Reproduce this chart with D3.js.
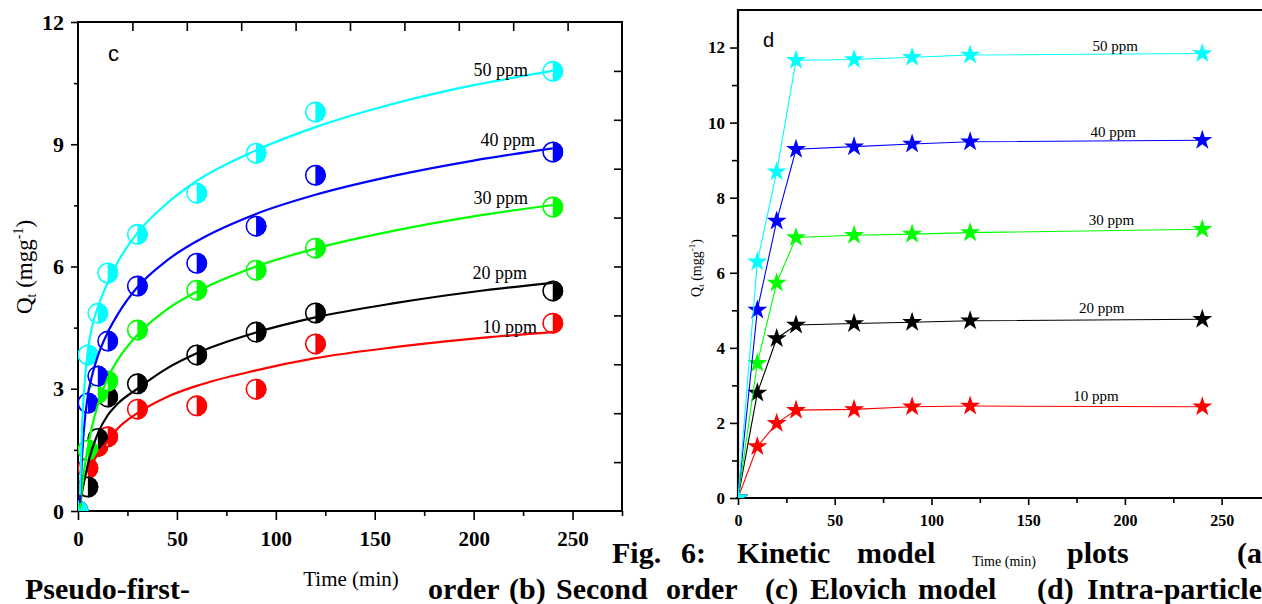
<!DOCTYPE html>
<html>
<head>
<meta charset="utf-8">
<script src="https://cdn.jsdelivr.net/npm/d3@7"></script>
<style>
  body { margin: 0; background: #fff; }
  svg { display: block; }
</style>
</head>
<body>
<svg id="fig" width="1262" height="604"></svg>
<script>
// === Fig. 6 — kinetic model plots, panels (c) Elovich and (d) intra-particle ===

// --- Data ---
const SERIES = ["10 ppm", "20 ppm", "30 ppm", "40 ppm", "50 ppm"];
const COLORS = ["#ff0000", "#000000", "#00ff00", "#0000ff", "#00ffff"];

// panel c: measured points
const ELOVICH_T = [0, 5, 10, 15, 30, 60, 90, 120, 240];
const ELOVICH_Q = [
  [0, 1.05, 1.58, 1.82, 2.50, 2.58, 2.99, 4.10, 4.61],
  [0, 0.59, 1.78, 2.80, 3.12, 3.83, 4.39, 4.86, 5.40],
  [0, 1.50, 2.89, 3.19, 4.44, 5.42, 5.91, 6.45, 7.46],
  [0, 2.65, 3.31, 4.17, 5.52, 6.08, 6.99, 8.24, 8.81],
  [0, 3.83, 4.85, 5.84, 6.79, 7.80, 8.78, 9.79, 10.79]
];
// panel c: fitted curves
const FIT_T = [1, 2, 3, 5, 7, 10, 15, 20, 30, 45, 60, 90, 120, 160, 200, 240];
const FIT_Q = [
  [0.30, 0.60, 0.80, 1.00, 1.15, 1.40, 1.72, 2.02, 2.40, 2.80, 3.07, 3.45, 3.75, 4.02, 4.23, 4.39],
  [0.10, 0.45, 0.70, 1.15, 1.50, 1.90, 2.35, 2.63, 3.00, 3.50, 3.87, 4.38, 4.75, 5.10, 5.38, 5.60],
  [0.05, 0.55, 0.95, 1.58, 2.05, 2.60, 3.26, 3.70, 4.32, 4.95, 5.38, 6.00, 6.44, 6.88, 7.23, 7.51],
  [0.20, 1.30, 2.00, 2.85, 3.30, 3.80, 4.38, 4.82, 5.49, 6.15, 6.62, 7.29, 7.76, 8.23, 8.60, 8.90],
  [0.40, 2.00, 2.90, 3.95, 4.50, 5.00, 5.60, 6.10, 6.82, 7.55, 8.10, 8.85, 9.42, 10.00, 10.45, 10.80]
];

// panel d
const INTRA_T = [0, 10, 20, 30, 60, 90, 120, 240];
const INTRA_Q = [
  [0, 1.37, 1.99, 2.34, 2.36, 2.43, 2.45, 2.43],
  [0, 2.80, 4.25, 4.61, 4.65, 4.68, 4.72, 4.76],
  [0, 3.59, 5.73, 6.94, 7.00, 7.03, 7.07, 7.16],
  [0, 5.01, 7.38, 9.29, 9.36, 9.43, 9.49, 9.53],
  [0, 6.29, 8.69, 11.66, 11.68, 11.74, 11.80, 11.84]
];

const C_XTICKS = [0, 50, 100, 150, 200, 250];
const C_YTICKS = [0, 3, 6, 9, 12];
const D_XTICKS = [0, 50, 100, 150, 200, 250];
const D_YTICKS = [0, 2, 4, 6, 8, 10, 12];

// --- Fonts ---
const SERIF = "'Liberation Serif', 'Times New Roman', serif";
const SANS = "'Liberation Sans', Arial, sans-serif";

const svg = d3.select("#fig");
const defs = svg.append("defs");

function zip(xs, ys) { return xs.map((x, i) => [x, ys[i]]); }

function styleAxis(sel, size, bold) {
  sel.select(".domain").remove();
  sel.selectAll("line").attr("stroke", "#000").attr("stroke-width", 1.6);
  sel.selectAll("text")
    .attr("font-family", SERIF)
    .attr("font-size", size)
    .attr("font-weight", bold ? "bold" : "normal")
    .attr("fill", "#000");
}

// ================= Panel c =================
const cx = d3.scaleLinear().domain([0, 275]).range([78, 622]);
const cy = d3.scaleLinear().domain([0, 12]).range([511, 22]);
const cxDiv = d3.scaleLinear().domain([0, 10]).range([78, 622]);
const cyDiv = d3.scaleLinear().domain([0, 10]).range([511, 22]);

defs.append("clipPath").attr("id", "clipC")
  .append("rect").attr("x", 78).attr("y", 22).attr("width", 544).attr("height", 489);

const gc = svg.append("g");

// axes
gc.append("g").attr("transform", "translate(0,511)")
  .call(d3.axisBottom(cx).tickValues([25, 75, 125, 175, 225, 275]).tickSize(5).tickFormat(""))
  .call(s => styleAxis(s, 20, true));
gc.append("g").attr("transform", "translate(0,511)")
  .call(d3.axisBottom(cx).tickValues(C_XTICKS).tickSize(9).tickPadding(11).tickFormat(d3.format("d")))
  .call(s => styleAxis(s, 21, true));
gc.append("g").attr("transform", "translate(78,0)")
  .call(d3.axisLeft(cy).tickValues([1.5, 4.5, 7.5, 10.5]).tickSize(4).tickFormat(""))
  .call(s => styleAxis(s, 20, true));
gc.append("g").attr("transform", "translate(78,0)")
  .call(d3.axisLeft(cy).tickValues(C_YTICKS).tickSize(7).tickPadding(7).tickFormat(d3.format("d")))
  .call(s => styleAxis(s, 22, true));
gc.append("g").attr("transform", "translate(0,22)")
  .call(d3.axisTop(cxDiv).tickValues(d3.range(1, 10)).tickSize(-9).tickFormat(""))
  .call(s => styleAxis(s, 20, true));
gc.append("g").attr("transform", "translate(622,0)")
  .call(d3.axisRight(cyDiv).tickValues(d3.range(1, 10)).tickSize(-8).tickFormat(""))
  .call(s => styleAxis(s, 20, true));
gc.append("rect").attr("x", 78).attr("y", 22).attr("width", 544).attr("height", 489)
  .attr("fill", "none").attr("stroke", "#000").attr("stroke-width", 2);

// markers: half-filled circles (left white, right filled)
const R = 10.5;
const halfArc = d3.arc().innerRadius(0).outerRadius(R).startAngle(0).endAngle(Math.PI);
const plotC = gc.append("g").attr("clip-path", "url(#clipC)");
SERIES.forEach((name, si) => {
  const col = COLORS[si];
  const pts = plotC.append("g").selectAll("g")
    .data(zip(ELOVICH_T, ELOVICH_Q[si]))
    .join("g")
    .attr("transform", d => `translate(${cx(d[0])},${cy(d[1])})`);
  pts.append("circle").attr("r", R - 0.8).attr("fill", "#fff")
    .attr("stroke", col).attr("stroke-width", 1.6);
  pts.append("path").attr("d", halfArc()).attr("fill", col);
});
const fitLine = d3.line().x(d => cx(d[0])).y(d => cy(d[1])).curve(d3.curveMonotoneX);
SERIES.forEach((name, si) => {
  plotC.append("path")
    .datum(zip(FIT_T, FIT_Q[si]))
    .attr("d", fitLine)
    .attr("fill", "none")
    .attr("stroke", COLORS[si])
    .attr("stroke-width", 2.2);
});

// curve labels: [t at text end, px offset from curve end]
const cLabelPos = [[232, 1], [227, -4], [227.5, -1], [231, -2], [227.5, 5]];
SERIES.forEach((name, si) => {
  const qEnd = FIT_Q[si][FIT_Q[si].length - 1];
  gc.append("text")
    .attr("x", cx(cLabelPos[si][0]))
    .attr("y", cy(qEnd) + cLabelPos[si][1])
    .attr("text-anchor", "end")
    .attr("font-family", SERIF)
    .attr("font-size", 18)
    .attr("fill", "#000")
    .text(name);
});

gc.append("text").attr("x", 108).attr("y", 61)
  .attr("font-family", SANS).attr("font-size", 22).text("c");

// axis titles
const cYT = gc.append("text")
  .attr("transform", "translate(32,267) rotate(-90)")
  .attr("text-anchor", "middle")
  .attr("font-family", SERIF).attr("font-size", 23);
cYT.append("tspan").text("Q");
cYT.append("tspan").attr("font-size", 14).attr("dy", 4).text("t");
cYT.append("tspan").attr("dy", -4).text(" (mgg");
cYT.append("tspan").attr("font-size", 14).attr("dy", -9).text("-1");
cYT.append("tspan").attr("dy", 9).text(")");

gc.append("text").attr("x", 351).attr("y", 586)
  .attr("text-anchor", "middle")
  .attr("font-family", SERIF).attr("font-size", 21)
  .text("Time (min)");

// ================= Panel d =================
const dx = d3.scaleLinear().domain([0, 275]).range([738, 1270]);
const dy = d3.scaleLinear().domain([0, 13]).range([498, 10]);

defs.append("clipPath").attr("id", "clipD")
  .append("rect").attr("x", 738).attr("y", 10).attr("width", 532).attr("height", 488);

const gd = svg.append("g");
gd.append("g").attr("transform", "translate(0,498)")
  .call(d3.axisBottom(dx).tickValues([25, 75, 125, 175, 225]).tickSize(5).tickFormat(""))
  .call(s => styleAxis(s, 16, true));
gd.append("g").attr("transform", "translate(0,498)")
  .call(d3.axisBottom(dx).tickValues(D_XTICKS).tickSize(7).tickPadding(10).tickFormat(d3.format("d")))
  .call(s => styleAxis(s, 16, true));
gd.append("g").attr("transform", "translate(738,0)")
  .call(d3.axisLeft(dy).tickValues([1, 3, 5, 7, 9, 11]).tickSize(6).tickFormat(""))
  .call(s => styleAxis(s, 16, true));
gd.append("g").attr("transform", "translate(738,0)")
  .call(d3.axisLeft(dy).tickValues(D_YTICKS).tickSize(8).tickPadding(5).tickFormat(d3.format("d")))
  .call(s => styleAxis(s, 17, true));
gd.append("path").attr("d", "M738,498 V10 H1270")
  .attr("fill", "none").attr("stroke", "#000").attr("stroke-width", 2.2);
gd.append("line").attr("x1", 736).attr("x2", 1270).attr("y1", 498).attr("y2", 498)
  .attr("stroke", "#000").attr("stroke-width", 2.2);

const plotD = gd.append("g").attr("clip-path", "url(#clipD)");
const intraLine = d3.line().x(d => dx(d[0])).y(d => dy(d[1]));
const star = d3.symbol().type(d3.symbolStar).size(125);
SERIES.forEach((name, si) => {
  const data = zip(INTRA_T, INTRA_Q[si]);
  plotD.append("path").datum(data).attr("d", intraLine)
    .attr("fill", "none").attr("stroke", COLORS[si]).attr("stroke-width", 1.1);
  plotD.append("g").selectAll("path")
    .data(data)
    .join("path")
    .attr("transform", d => `translate(${dx(d[0])},${dy(d[1])})`)
    .attr("d", star)
    .attr("fill", COLORS[si]);
});

// labels: [t at text centre, px above last point]
const dLabelPos = [[185, 6], [188, 6], [193, 4], [194, 3], [195, 3]];
SERIES.forEach((name, si) => {
  const qEnd = INTRA_Q[si][INTRA_Q[si].length - 1];
  gd.append("text")
    .attr("x", dx(dLabelPos[si][0]))
    .attr("y", dy(qEnd) - dLabelPos[si][1])
    .attr("text-anchor", "middle")
    .attr("font-family", SERIF).attr("font-size", 15)
    .text(name);
});

gd.append("text").attr("x", 763).attr("y", 47)
  .attr("font-family", SANS).attr("font-size", 20).text("d");

const dYT = gd.append("text")
  .attr("transform", "translate(701,268) rotate(-90)")
  .attr("text-anchor", "middle")
  .attr("font-family", SERIF).attr("font-size", 14);
dYT.append("tspan").text("Q");
dYT.append("tspan").attr("font-size", 9).attr("dy", 3).text("t");
dYT.append("tspan").attr("dy", -3).text(" (mgg");
dYT.append("tspan").attr("font-size", 9).attr("dy", -6).text("-1");
dYT.append("tspan").attr("dy", 6).text(")");

gd.append("text").attr("x", 1004).attr("y", 566)
  .attr("text-anchor", "middle")
  .attr("font-family", SERIF).attr("font-size", 14)
  .text("Time (min)");

// ================= Caption (justified, word by word) =================
const CAPTION = [
  { y: 563, words: [["Fig.", 612], ["6:", 681], ["Kinetic", 737], ["model", 857], ["plots", 1067], ["(a", 1237]] },
  { y: 599, words: [["Pseudo-first-", 25], ["order", 428], ["(b)", 509], ["Second", 556], ["order", 666],
                    ["(c)", 765], ["Elovich", 810], ["model", 918], ["(d)", 1037], ["Intra-particle", 1087]] }
];
const cap = svg.append("g");
CAPTION.forEach(line => {
  line.words.forEach(([w, x]) => {
    cap.append("text")
      .attr("x", x).attr("y", line.y)
      .attr("font-family", SERIF).attr("font-size", 30).attr("font-weight", "bold")
      .text(w);
  });
});
</script>
</body>
</html>
